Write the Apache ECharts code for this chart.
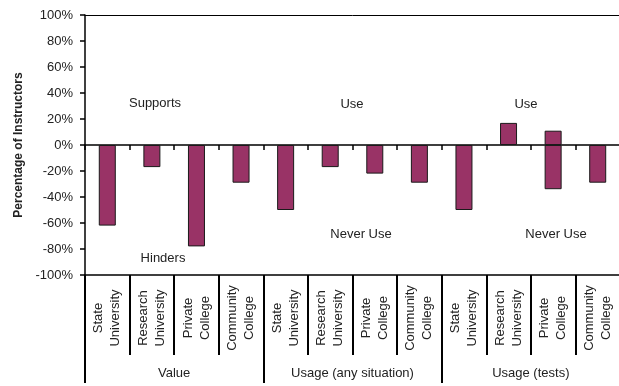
<!DOCTYPE html>
<html>
<head>
<meta charset="utf-8">
<script src="https://cdn.jsdelivr.net/npm/echarts@6/dist/echarts.min.js"></script>
<style>
  html, body { margin: 0; padding: 0; background: #fff; }
  #chart { width: 619px; height: 386px; }
</style>
</head>
<body>
<div id="chart"></div>
<script>
// Institution types, repeated once per survey question group
const institutions = [
  'State\nUniversity', 'Research\nUniversity', 'Private\nCollege', 'Community\nCollege',
  'State\nUniversity', 'Research\nUniversity', 'Private\nCollege', 'Community\nCollege',
  'State\nUniversity', 'Research\nUniversity', 'Private\nCollege', 'Community\nCollege'
];
const groups = ['Value', 'Usage (any situation)', 'Usage (tests)'];

// Share of instructors answering positively (Supports / Use)
const positiveShare = [null, null, null, null, null, null, null, null, null, 17, 11, null];
// Share answering negatively (Hinders / Never Use), plotted below zero
const negativeShare = [-62, -17, -78, -29, -50, -17, -22, -29, -50, null, -34, -29];

const yTicks = { min: -100, max: 100, step: 20 };

const font = 'Liberation Sans, Arial, sans-serif';
const ink = '#222';
const barColor = '#993366';

const chart = echarts.init(document.getElementById('chart'), null, { renderer: 'canvas' });

const barStyle = { color: barColor, borderColor: '#1a1a1a', borderWidth: 1 };

chart.setOption({
  animation: false,
  backgroundColor: '#fff',
  grid: { left: 85, right: -1, top: 15, bottom: 111, outerBoundsMode: 'none', containLabel: false },
  xAxis: [
    {
      // category axis sitting on the zero line, tick marks only
      type: 'category', data: institutions, position: 'bottom',
      axisLine: { onZero: true, lineStyle: { color: '#000', width: 1.5 } },
      axisTick: { show: true, interval: 0, length: 5, lineStyle: { color: '#000', width: 1.5 } },
      axisLabel: { show: false, interval: 0 }, splitLine: { show: false }
    },
    {
      // institution labels below the plot, with cell dividers
      type: 'category', data: institutions, position: 'bottom',
      axisLine: { onZero: false, lineStyle: { color: '#000', width: 1.5 } },
      axisTick: { show: true, interval: 0, length: 80, lineStyle: { color: '#000', width: 2 } },
      axisLabel: {
        rotate: 90, align: 'center', verticalAlign: 'middle', margin: 43,
        fontFamily: font, fontSize: 13, lineHeight: 17, color: ink, interval: 0
      },
      splitLine: { show: false }
    },
    {
      // question group labels
      type: 'category', data: groups, position: 'bottom',
      axisLine: { show: false, onZero: false },
      axisTick: { show: true, interval: 0, length: 108, lineStyle: { color: '#000', width: 2 } },
      axisLabel: {
        margin: 98, verticalAlign: 'middle',
        fontFamily: font, fontSize: 13, color: ink, interval: 0
      },
      splitLine: { show: false }
    },
    {
      // top frame line
      type: 'category', data: institutions, position: 'top',
      axisLine: { onZero: false, lineStyle: { color: '#000', width: 1 } },
      axisTick: { show: false }, axisLabel: { show: false }, splitLine: { show: false }
    }
  ],
  yAxis: {
    type: 'value', min: yTicks.min, max: yTicks.max, interval: yTicks.step,
    name: 'Percentage of Instructors', nameLocation: 'middle', nameGap: 60, nameRotate: 90,
    nameMoveOverlap: false,
    nameTextStyle: { fontFamily: font, fontSize: 12, fontWeight: 'bold', color: ink },
    axisLine: { show: true, onZero: false, lineStyle: { color: '#000', width: 1.5 } },
    axisTick: { show: true, length: 5, lineStyle: { color: '#000', width: 1.5 } },
    axisLabel: { formatter: '{value}%', margin: 12, fontFamily: font, fontSize: 13, color: ink },
    splitLine: { show: false }
  },
  series: [
    {
      name: 'Positive', type: 'bar', stack: 'share', data: positiveShare,
      xAxisIndex: 0, yAxisIndex: 0, barWidth: 17, itemStyle: barStyle, z: 1
    },
    {
      name: 'Negative', type: 'bar', stack: 'share', data: negativeShare,
      xAxisIndex: 0, yAxisIndex: 0, barWidth: 17, itemStyle: barStyle, z: 1
    }
  ],
  graphic: [
    ['Supports', 155, 103], ['Hinders', 163, 258],
    ['Use', 352, 104], ['Never Use', 361, 234],
    ['Use', 526, 104], ['Never Use', 556, 234]
  ].map(([text, x, y]) => ({
    type: 'text', x, y, silent: true,
    style: { text, font: '13px ' + font, fill: ink, align: 'center', verticalAlign: 'middle' }
  }))
});
</script>
</body>
</html>
